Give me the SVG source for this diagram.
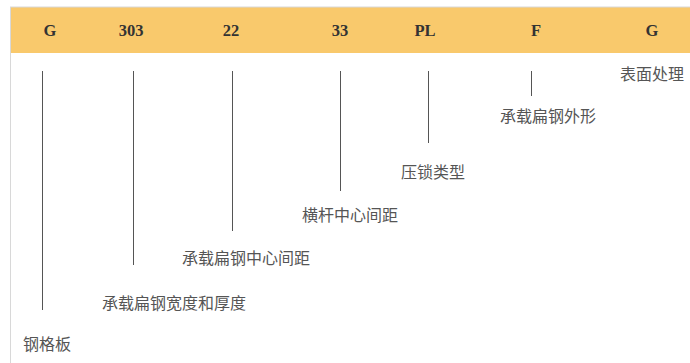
<svg xmlns="http://www.w3.org/2000/svg" width="690" height="363" viewBox="0 0 690 363">
<style>
.hd{font-family:"Liberation Serif","DejaVu Serif",serif;font-weight:bold;font-size:16.5px;fill:#333;text-anchor:middle}
.lb{font-family:"Liberation Serif","Noto Sans CJK SC",serif;font-size:16px;fill:#555}
.ln{stroke:#555;stroke-width:1;fill:none}
</style>
<rect x="0" y="0" width="690" height="363" fill="#fff"/>
<rect x="10" y="7" width="680" height="46" fill="#f9c96c"/>
<line x1="10" y1="7" x2="690" y2="7" stroke="#d8d8d8" stroke-width="1"/>
<line x1="10.5" y1="7" x2="10.5" y2="363" stroke="#d8d8d8" stroke-width="1"/>
<g id="header">
<text class="hd" x="50" y="36">G</text>
<text class="hd" x="131" y="36">303</text>
<text class="hd" x="231" y="36">22</text>
<text class="hd" x="340" y="36">33</text>
<text class="hd" x="425" y="36">PL</text>
<text class="hd" x="536" y="36">F</text>
<text class="hd" x="652" y="36">G</text>
</g>
<g id="connectors">
<line class="ln" x1="42.5" y1="71" x2="42.5" y2="310"/>
<line class="ln" x1="133.5" y1="71" x2="133.5" y2="265"/>
<line class="ln" x1="232.5" y1="71" x2="232.5" y2="231"/>
<line class="ln" x1="340.5" y1="71" x2="340.5" y2="191"/>
<line class="ln" x1="428.5" y1="71" x2="428.5" y2="143"/>
<line class="ln" x1="531.5" y1="71" x2="531.5" y2="96"/>
</g>
<g id="n1"><text class="lb" x="23" y="350">钢格板</text></g>
<g id="n2"><text class="lb" x="102" y="309">承载扁钢宽度和厚度</text></g>
<g id="n3"><text class="lb" x="182" y="264">承载扁钢中心间距</text></g>
<g id="n4"><text class="lb" x="302" y="221">横杆中心间距</text></g>
<g id="n5"><text class="lb" x="401" y="178">压锁类型</text></g>
<g id="n6"><text class="lb" x="500" y="122">承载扁钢外形</text></g>
<g id="n7"><text class="lb" x="620" y="80">表面处理</text></g>
</svg>
